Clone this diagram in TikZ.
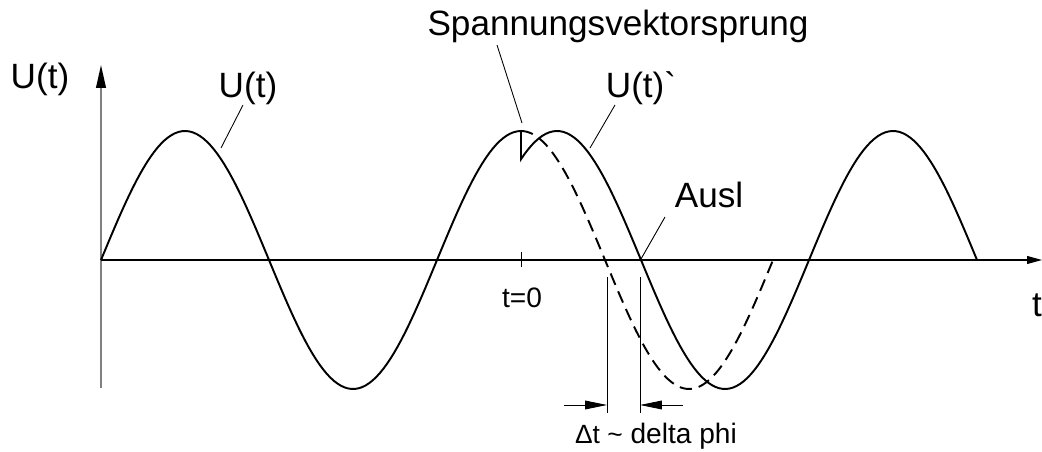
\documentclass[tikz,border=0pt]{standalone}
\usepackage{fontspec}
\setmainfont{Liberation Sans}
\usetikzlibrary{arrows.meta}

\begin{document}
\begin{tikzpicture}[x=0.02cm, y=-0.02cm]
\tikzset{
  biglabel/.style={font=\fontsize{20}{24}\selectfont, inner sep=0pt},
  smalllabel/.style={font=\fontsize{16}{19}\selectfont, inner sep=0pt},
  curve/.style={line width=1.1pt},
  leader/.style={line width=0.5pt},
  dimarrow/.style={-{Triangle[length=12.5pt, width=5pt]}, line width=0.5pt}
}
\useasboundingbox (0,0) rectangle (1042,452);

% axes
\coordinate (O) at (101,260);
\coordinate (xend) at (1042,260);
\coordinate (ytop) at (101,65);
\coordinate (ybot) at (101,388);
\draw[black!50, line width=1pt, -{Triangle[length=13pt, width=5.5pt, black]}] (ybot) -- (ytop);
\draw[line width=0.6pt, -{Triangle[length=8.5pt, width=4.5pt]}] (O) -- (xend);
\coordinate (tick-a) at (521,252);
\coordinate (tick-b) at (521,267);
\draw[line width=0.5pt] (tick-a) -- (tick-b);

% U(t) and U(t)` with the jump at t=0 (period 336, 1.0714 deg per unit)
\draw[curve] plot[domain=101:521, samples=120] (\x, {260-129*sin(1.0714*(\x-101))})
  -- plot[domain=521:977, samples=130] (\x, {260-129*sin(1.0714*(\x-137))});
\draw[curve, dash pattern=on 7pt off 4pt] plot[domain=521:773, samples=80] (\x, {260-129*sin(1.0714*(\x-101))});

% labels
\node[biglabel] (uaxis) at (40,79) {U(t)};
\node[biglabel] (ulab) at (248,88) {U(t)};
\node[biglabel] (spv) at (618,26) {Spannungsvektorsprung};
\node[biglabel, font=\fontsize{20}{24}\selectfont\addfontfeatures{Ligatures=TeXOff}] (ushift) at (641,88) {U(t)`};
\node[biglabel] (ausl) at (709,195) {Ausl};
\node[biglabel] (tlab) at (1037,305) {t};
\node[smalllabel] (tnull) at (522,298) {t=0};

% leaders
\coordinate (ulab-a) at (221,148);
\coordinate (ulab-b) at (243,105);
\draw[leader] (ulab-a) -- (ulab-b);
\coordinate (spv-a) at (522,123);
\coordinate (spv-b) at (497,45);
\draw[leader] (spv-a) -- (spv-b);
\coordinate (ushift-a) at (590,148);
\coordinate (ushift-b) at (615,105);
\draw[leader] (ushift-a) -- (ushift-b);
\coordinate (ausl-a) at (641,259);
\coordinate (ausl-b) at (665,217);
\draw[leader] (ausl-a) -- (ausl-b);

% delta t
\coordinate (dl-top) at (607,277);
\coordinate (dl-bot) at (607,413);
\coordinate (dr-top) at (640,277);
\coordinate (dr-bot) at (640,413);
\draw[leader] (dl-top) -- (dl-bot);
\draw[leader] (dr-top) -- (dr-bot);
\coordinate (dl-tail) at (564,405);
\coordinate (dl-tip) at (607,405);
\coordinate (dr-tail) at (683,405);
\coordinate (dr-tip) at (640,405);
\draw[dimarrow] (dl-tail) -- (dl-tip);
\draw[dimarrow] (dr-tail) -- (dr-tip);
\node[smalllabel] (dlab) at (656,436) {{\fontsize{15}{18}\selectfont Δt \textasciitilde} delta phi};
\end{tikzpicture}
\end{document}
